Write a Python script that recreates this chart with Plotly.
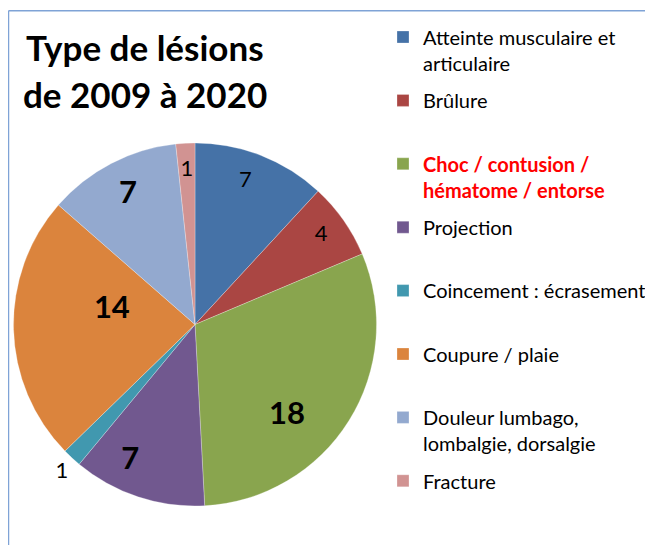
import plotly.graph_objects as go

# ---- data ----
categories = [
    "Atteinte musculaire et articulaire",
    "Brûlure",
    "Choc / contusion / hématome / entorse",
    "Projection",
    "Coincement : écrasement",
    "Coupure / plaie",
    "Douleur lumbago, lombalgie, dorsalgie",
    "Fracture",
]
legend_names = [
    "Atteinte musculaire et<br>articulaire",
    "Brûlure<br>\u00a0",
    "<b><span style='color:#FF0000'>Choc / contusion /</span></b><br>"
    "<b><span style='color:#FF0000'>hématome / entorse</span></b>",
    "Projection<br>\u00a0",
    "Coincement : écrasement<br>\u00a0",
    "Coupure / plaie<br>\u00a0",
    "Douleur lumbago,<br>lombalgie, dorsalgie",
    "Fracture<br>\u00a0",
]
values = [7, 4, 18, 7, 1, 14, 7, 1]
title_lines = ["Type de lésions", "de 2009 à 2020"]

# ---- styles ----
colors = ["#4572A7", "#AA4643", "#89A54E", "#71588F",
          "#4198AF", "#DB843D", "#93A9CF", "#D19392"]
label_bold = [False, False, True, True, False, True, True, False]
label_radius = [0.837, 0.85, 0.717, 0.835, 1.03, 0.465, 0.80, 0.85]
label_angle_shift = [-2, 0, 13, 7, 0, 11.5, 0, 0]
label_pos = ["middle center"] * 4 + ["bottom left"] + ["middle center"] * 3

# page is rendered with an 8px body margin: work in page pixels and shift
OFF = 8
W, H = 653 - OFF, 545 - OFF
FONT = "Lato, 'Open Sans', sans-serif"


def px(x):
    return (x - OFF) / W


def py(y):
    return 1 - (y - OFF) / H


total = sum(values)
mids, widths = [], []
start = 0.0
for v in values:
    w = v / total * 360.0
    mids.append(start + w / 2)
    widths.append(w)
    start += w

fig = go.Figure()
for i, (name, v) in enumerate(zip(legend_names, values)):
    fig.add_trace(go.Barpolar(
        r=[1], theta=[mids[i]], width=[widths[i]],
        marker=dict(color=colors[i], line=dict(color="rgba(255,255,255,0.45)", width=0.6)),
        name=name, legendgroup=str(i), hovertext=[f"{categories[i]}: {v}"],
        hoverinfo="text",
    ))

fig.add_trace(go.Scatterpolar(
    r=label_radius, theta=[m + s for m, s in zip(mids, label_angle_shift)], mode="text",
    text=[f"<b>{v}</b>" if b else str(v) for v, b in zip(values, label_bold)],
    textfont=dict(family=FONT, size=[31 if b else 22 for b in label_bold], color="black"),
    textposition=label_pos, cliponaxis=False, showlegend=False, hoverinfo="skip",
))

# pie centre / radius in page pixels; polar area a bit larger than the pie
pcx, pcy, pr = 195, 324.5, 181.5
dr = pcx - OFF  # polar radius reaching the left edge
fig.update_layout(
    width=W, height=H, autosize=False,
    margin=dict(l=0, r=0, t=0, b=0),
    paper_bgcolor="white", plot_bgcolor="white",
    font=dict(family=FONT, color="black"),
    polar=dict(
        domain=dict(x=[px(pcx - dr), px(pcx + dr)], y=[py(pcy + dr), py(pcy - dr)]),
        bgcolor="rgba(0,0,0,0)", bargap=0, hole=0,
        angularaxis=dict(rotation=90, direction="clockwise", visible=False, showgrid=False),
        radialaxis=dict(range=[0, dr / pr], visible=False, showgrid=False),
    ),
    legend=dict(x=px(383), xanchor="left", y=py(17.5), yanchor="top",
                font=dict(family=FONT, size=20, color="black"),
                tracegroupgap=8.4, valign="top", traceorder="grouped",
                bgcolor="rgba(0,0,0,0)"),
    annotations=[
        dict(text=f"<b>{t}</b>", xref="paper", yref="paper", x=px(145), y=py(yy),
             xanchor="center", yanchor="middle", showarrow=False,
             font=dict(family=FONT, size=35, color="black"))
        for t, yy in zip(title_lines, [47, 94])
    ],
    shapes=[
        dict(type="line", xref="paper", yref="paper", x0=px(8.5), x1=1, y0=py(10.7), y1=py(10.7),
             line=dict(color="#7FA3D6", width=1.5)),
        dict(type="line", xref="paper", yref="paper", x0=px(8.5), x1=px(8.5), y0=0, y1=py(10.7),
             line=dict(color="#7FA3D6", width=1.5)),
    ],
)

fig.write_html("out.html")
